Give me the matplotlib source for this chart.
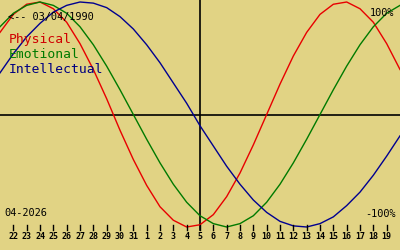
import numpy as np
import matplotlib
matplotlib.use("Agg")
import matplotlib.pyplot as plt

# days relative to 05/04/2026 (one point per day, edge to edge)
offsets = list(range(-15, 16))
physical = [0.73, 0.89, 0.98, 1.00, 0.94, 0.82, 0.63, 0.40, 0.14, -0.14, -0.40,
            -0.63, -0.82, -0.94, -1.00, -0.98, -0.89, -0.73, -0.52, -0.27, 0.00,
            0.27, 0.52, 0.73, 0.89, 0.98, 1.00, 0.94, 0.82, 0.63, 0.40]
emotional = [0.78, 0.90, 0.97, 1.00, 0.97, 0.90, 0.78, 0.62, 0.43, 0.22, 0.00,
             -0.22, -0.43, -0.62, -0.78, -0.90, -0.97, -1.00, -0.97, -0.90, -0.78,
             -0.62, -0.43, -0.22, 0.00, 0.22, 0.43, 0.62, 0.78, 0.90, 0.97]
intellectual = [0.37, 0.54, 0.69, 0.81, 0.91, 0.97, 1.00, 0.99, 0.95, 0.87, 0.76,
                0.62, 0.46, 0.28, 0.10, -0.10, -0.28, -0.46, -0.62, -0.76, -0.87,
                -0.95, -0.99, -1.00, -0.97, -0.91, -0.81, -0.69, -0.54, -0.37, -0.19]

tick_days = list(range(-14, 15))
day_labels = [str(n) for n in range(22, 32)] + [str(n) for n in range(1, 20)]

birth = "03/04/1990"
month = "04-2026"

bg = "#E1D384"
mono = "DejaVu Sans Mono"

fig = plt.figure(figsize=(4, 2.5), dpi=100, facecolor=bg)
ax = fig.add_axes([0, 0, 1, 1])
ax.set_facecolor(bg)
ax.set_xlim(-15, 15)
# pixel row p -> value (114.5 - p) / 112.5
ax.set_ylim((114.5 - 250) / 112.5, 114.5 / 112.5)
ax.axis("off")

ax.axhline(0, color="black", lw=1.2)
ax.plot([0, 0], [0.08, 1], color="black", lw=1.2, transform=ax.get_xaxis_transform())

ax.plot(offsets, physical, color="#E80000", lw=1)
ax.plot(offsets, emotional, color="#007A00", lw=1)
ax.plot(offsets, intellectual, color="#000090", lw=1)

trans = ax.get_xaxis_transform()
for d, lab in zip(tick_days, day_labels):
    ax.plot([d, d], [0.08, 0.1], color="black", lw=1, transform=trans)
    ax.text(d, 0.044, lab, transform=trans, ha="center", va="baseline",
            fontsize=6, family=mono, fontweight="bold")

def put(x, p, s, **kw):
    ax.text(x / 400, (250 - p) / 250, s, transform=ax.transAxes,
            va="baseline", family=mono, **kw)

put(8, 20, "<-- " + birth, fontsize=7.4)
put(9, 43, "Physical", fontsize=9.4, color="#D00000")
put(9, 58, "Emotional", fontsize=9.4, color="#007A00")
put(9, 73, "Intellectual", fontsize=9.4, color="#000080")
put(394, 16, "100%", fontsize=7.4, ha="right")
put(396, 217, "-100%", fontsize=7.4, ha="right")
put(4, 216, month, fontsize=7.4)

fig.savefig("out.png", facecolor=bg)
